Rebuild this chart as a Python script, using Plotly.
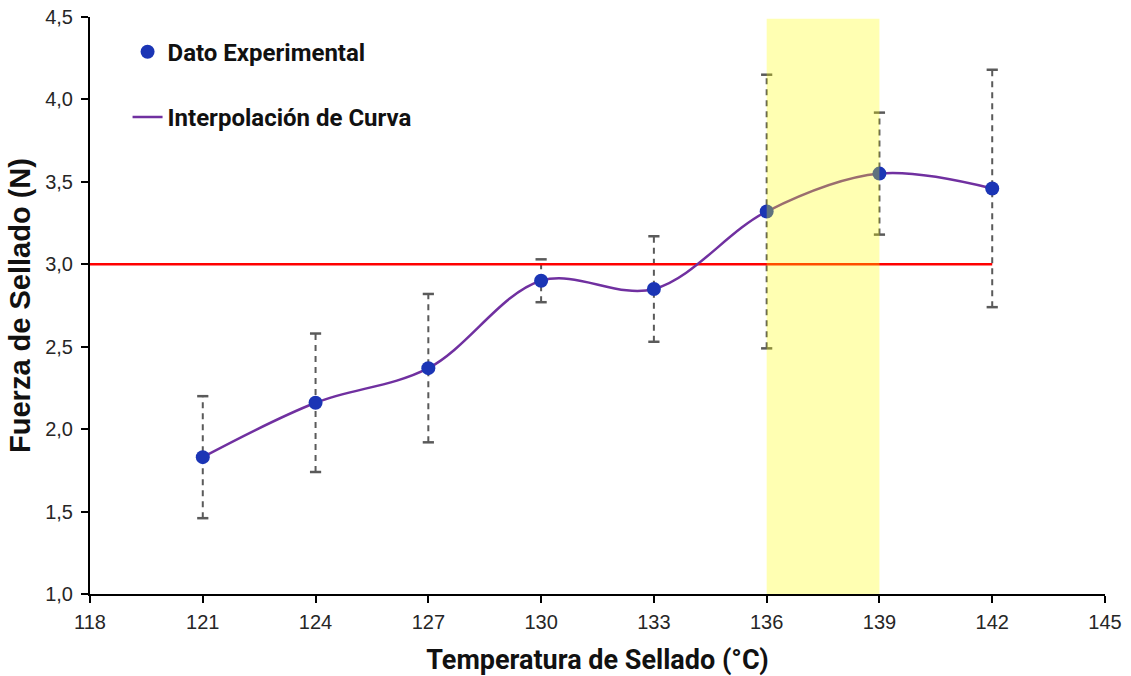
import plotly.graph_objects as go

# Sealing temperature (°C) and measured seal strength (N)
temperatura = [121, 124, 127, 130, 133, 136, 139, 142]
fuerza = [1.83, 2.16, 2.37, 2.90, 2.85, 3.32, 3.55, 3.46]
desviacion = [0.37, 0.42, 0.45, 0.13, 0.32, 0.83, 0.37, 0.72]

# Minimum required strength and optimal temperature window
fuerza_minima = 3.0
rango_min_x = [118, 142]
ventana_optima = [136, 139]

x_ticks = [118, 121, 124, 127, 130, 133, 136, 139, 142, 145]
y_ticks = [1.0, 1.5, 2.0, 2.5, 3.0, 3.5, 4.0, 4.5]

GRIS = "#5a5a5a"
AZUL = "#1b35b5"
MORADO = "#7030a0"

fig = go.Figure()

# Dashed error bars built from the deviation values
ex, ey = [], []
for t, f, d in zip(temperatura, fuerza, desviacion):
    ex += [t, t, None]
    ey += [f - d, f + d, None]
fig.add_trace(go.Scatter(
    x=ex, y=ey, mode="lines", showlegend=False, hoverinfo="skip",
    line=dict(color=GRIS, width=2, dash="6px,5px"),
))
# Error bar caps
fig.add_trace(go.Scatter(
    x=temperatura + temperatura,
    y=[f + d for f, d in zip(fuerza, desviacion)] + [f - d for f, d in zip(fuerza, desviacion)],
    mode="markers", showlegend=False, hoverinfo="skip",
    marker=dict(symbol="line-ew", size=8, line=dict(color=GRIS, width=2.5)),
))

# Required minimum strength
fig.add_trace(go.Scatter(
    x=rango_min_x, y=[fuerza_minima, fuerza_minima], mode="lines",
    showlegend=False, hoverinfo="skip",
    line=dict(color="#ff0000", width=2.5),
))

# Smoothed curve through the data
fig.add_trace(go.Scatter(
    x=temperatura, y=fuerza, mode="lines", name="Interpolación de Curva",
    line=dict(color=MORADO, width=2.5, shape="spline", smoothing=1.0),
    legendrank=2, legendgroup="curva",
))

# Experimental points
fig.add_trace(go.Scatter(
    x=temperatura, y=fuerza, mode="markers", name="Dato Experimental",
    marker=dict(color=AZUL, size=14, symbol="circle"),
    legendrank=1, legendgroup="datos",
))

# Optimal sealing window
fig.add_shape(
    type="rect", xref="x", yref="y",
    x0=ventana_optima[0], x1=ventana_optima[1], y0=1.0, y1=4.49,
    fillcolor="#ffff00", opacity=0.3, line=dict(width=0), layer="above",
)

tick_font = dict(family="Liberation Sans, Arial, sans-serif", size=20, color="#262626")

fig.update_layout(
    width=1131, height=676,
    margin=dict(l=90, r=26, t=17, b=82),
    paper_bgcolor="white", plot_bgcolor="white",
    separators=",.",
    showlegend=True,
    legend=dict(
        x=0.037, y=0.978, xanchor="left", yanchor="top",
        bgcolor="rgba(0,0,0,0)", tracegroupgap=31,
        font=dict(family="Roboto, sans-serif", size=24, color="#111111", weight="bold"),
        itemwidth=30, traceorder="grouped",
    ),
    xaxis=dict(
        range=[118, 145], tickvals=x_ticks, ticktext=[str(v) for v in x_ticks],
        showgrid=False, zeroline=False, automargin=False,
        showline=True, linecolor="black", linewidth=2,
        ticks="outside", ticklen=7, tickwidth=2, tickcolor="black",
        tickfont=tick_font, ticklabelstandoff=2,
        title=dict(text="<b>Temperatura de Sellado (°C)</b>",
                   font=dict(family="Roboto, sans-serif", size=27, color="#111111"),
                   standoff=18),
    ),
    yaxis=dict(
        range=[1.0, 4.5], tickvals=y_ticks, tickformat=".1f",
        showgrid=False, zeroline=False, automargin=False,
        showline=True, linecolor="black", linewidth=2,
        ticks="outside", ticklen=7, tickwidth=2, tickcolor="black",
        tickfont=tick_font, ticklabelstandoff=4,
        title=dict(text="<b>Fuerza de Sellado (N)</b>",
                   font=dict(family="Liberation Sans, Arial, sans-serif", size=29, color="#111111"),
                   standoff=6),
    ),
)

fig.write_html("out.html")
